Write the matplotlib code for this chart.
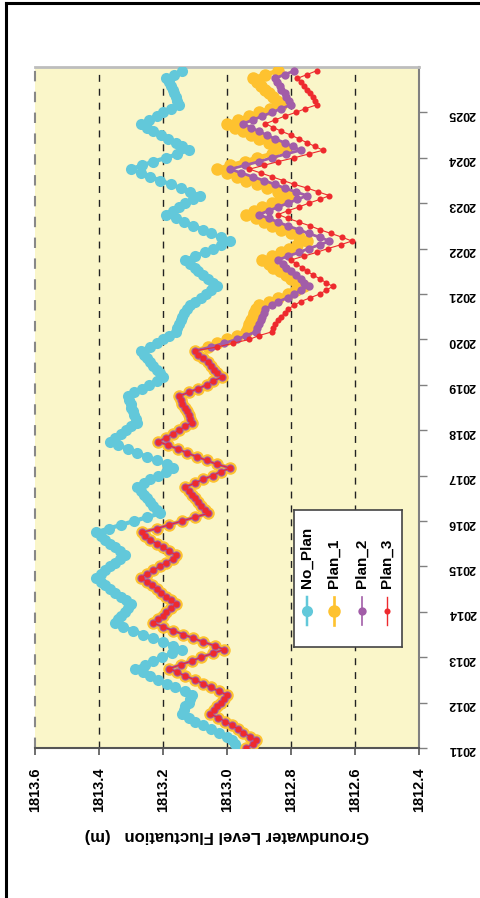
import numpy as np
import matplotlib
matplotlib.use("Agg")
import matplotlib.pyplot as plt
from matplotlib.lines import Line2D

plt.rcParams['font.family'] = ['Liberation Sans', 'DejaVu Sans']
plt.rcParams['font.weight'] = 'bold'

# ---- data: monthly groundwater level (m), Jan 2011 - Dec 2025 ----
years = list(range(2011, 2026))
year_labels = [str(y) for y in years]
value_ticks = [1813.6, 1813.4, 1813.2, 1813.0, 1812.8, 1812.6, 1812.4]
value_labels = ['1813.6', '1813.4', '1813.2', '1813.0', '1812.8', '1812.6', '1812.4']
series_names = ['No_Plan', 'Plan_1', 'Plan_2', 'Plan_3']

no_plan = [
    1812.970, 1812.975, 1812.985, 1813.000, 1813.025, 1813.050, 1813.075, 1813.100, 1813.120, 1813.140, 1813.135, 1813.130,
    1813.120, 1813.115, 1813.110, 1813.131, 1813.163, 1813.188, 1813.215, 1813.241, 1813.262, 1813.288, 1813.256, 1813.230,
    1813.204, 1813.173, 1813.142, 1813.168, 1813.199, 1813.230, 1813.262, 1813.293, 1813.324, 1813.350, 1813.340, 1813.330,
    1813.320, 1813.310, 1813.300, 1813.315, 1813.330, 1813.350, 1813.365, 1813.380, 1813.395, 1813.410, 1813.395, 1813.380,
    1813.365, 1813.350, 1813.335, 1813.320, 1813.335, 1813.350, 1813.365, 1813.380, 1813.395, 1813.410, 1813.370, 1813.330,
    1813.290, 1813.250, 1813.210, 1813.220, 1813.230, 1813.240, 1813.250, 1813.260, 1813.270, 1813.280, 1813.260, 1813.240,
    1813.215, 1813.190, 1813.170, 1813.188, 1813.220, 1813.251, 1813.282, 1813.308, 1813.340, 1813.366, 1813.350, 1813.330,
    1813.315, 1813.300, 1813.280, 1813.285, 1813.290, 1813.295, 1813.300, 1813.300, 1813.305, 1813.310, 1813.290, 1813.265,
    1813.245, 1813.220, 1813.200, 1813.210, 1813.220, 1813.230, 1813.240, 1813.250, 1813.260, 1813.270, 1813.240, 1813.220,
    1813.200, 1813.180, 1813.160, 1813.155, 1813.150, 1813.145, 1813.140, 1813.135, 1813.125, 1813.115, 1813.100, 1813.080,
    1813.065, 1813.050, 1813.030, 1813.045, 1813.060, 1813.075, 1813.090, 1813.100, 1813.115, 1813.130, 1813.100, 1813.070,
    1813.045, 1813.020, 1812.990, 1813.020, 1813.050, 1813.075, 1813.105, 1813.135, 1813.160, 1813.190, 1813.170, 1813.150,
    1813.130, 1813.105, 1813.085, 1813.115, 1813.145, 1813.175, 1813.210, 1813.240, 1813.270, 1813.300, 1813.265, 1813.230,
    1813.190, 1813.155, 1813.120, 1813.140, 1813.160, 1813.185, 1813.205, 1813.230, 1813.250, 1813.270, 1813.245, 1813.220,
    1813.200, 1813.175, 1813.150, 1813.155, 1813.160, 1813.165, 1813.170, 1813.175, 1813.180, 1813.190, 1813.165, 1813.140,
]

# all plans follow the same record up to Oct 2019
plan_shared = [
    1812.940, 1812.920, 1812.910, 1812.928, 1812.949, 1812.965, 1812.985, 1813.006, 1813.027, 1813.053, 1813.040, 1813.030,
    1813.020, 1813.010, 1813.000, 1813.025, 1813.050, 1813.075, 1813.100, 1813.130, 1813.155, 1813.180, 1813.145, 1813.110,
    1813.080, 1813.045, 1813.010, 1813.037, 1813.074, 1813.105, 1813.136, 1813.168, 1813.199, 1813.230, 1813.215, 1813.200,
    1813.190, 1813.175, 1813.160, 1813.175, 1813.190, 1813.205, 1813.220, 1813.235, 1813.250, 1813.270, 1813.250, 1813.230,
    1813.210, 1813.190, 1813.170, 1813.160, 1813.180, 1813.200, 1813.220, 1813.240, 1813.255, 1813.265, 1813.220, 1813.180,
    1813.140, 1813.100, 1813.060, 1813.070, 1813.080, 1813.090, 1813.100, 1813.110, 1813.120, 1813.130, 1813.100, 1813.075,
    1813.045, 1813.020, 1812.990, 1813.032, 1813.063, 1813.095, 1813.126, 1813.152, 1813.183, 1813.215, 1813.190, 1813.170,
    1813.150, 1813.130, 1813.110, 1813.115, 1813.120, 1813.125, 1813.130, 1813.140, 1813.145, 1813.150, 1813.120, 1813.090,
    1813.063, 1813.043, 1813.017, 1813.030, 1813.040, 1813.050, 1813.060, 1813.075, 1813.090, 1813.100,
]

# Nov 2019 - Dec 2025
plan_1_tail = [
    1813.060, 1813.030,
    1813.000, 1812.970, 1812.940, 1812.935, 1812.930, 1812.925, 1812.920, 1812.915, 1812.910, 1812.900, 1812.870, 1812.840,
    1812.810, 1812.785, 1812.760, 1812.780, 1812.800, 1812.815, 1812.835, 1812.855, 1812.870, 1812.890, 1812.860, 1812.830,
    1812.805, 1812.780, 1812.750, 1812.775, 1812.800, 1812.830, 1812.860, 1812.885, 1812.910, 1812.940, 1812.915, 1812.890,
    1812.860, 1812.835, 1812.810, 1812.840, 1812.875, 1812.905, 1812.940, 1812.970, 1813.000, 1813.030, 1812.990, 1812.945,
    1812.905, 1812.860, 1812.820, 1812.845, 1812.870, 1812.900, 1812.925, 1812.950, 1812.975, 1813.000, 1812.965, 1812.930,
    1812.900, 1812.865, 1812.830, 1812.845, 1812.855, 1812.870, 1812.880, 1812.895, 1812.905, 1812.920, 1812.880, 1812.840,
]
plan_2_tail = [
    1813.050, 1813.010,
    1812.970, 1812.940, 1812.910, 1812.905, 1812.900, 1812.895, 1812.890, 1812.885, 1812.880, 1812.860, 1812.840, 1812.810,
    1812.790, 1812.770, 1812.745, 1812.760, 1812.770, 1812.785, 1812.800, 1812.815, 1812.825, 1812.840, 1812.810, 1812.775,
    1812.745, 1812.710, 1812.680, 1812.710, 1812.745, 1812.775, 1812.810, 1812.840, 1812.870, 1812.900, 1812.870, 1812.840,
    1812.810, 1812.780, 1812.750, 1812.785, 1812.820, 1812.850, 1812.885, 1812.920, 1812.955, 1812.990, 1812.945, 1812.900,
    1812.860, 1812.815, 1812.770, 1812.795, 1812.820, 1812.850, 1812.875, 1812.900, 1812.925, 1812.950, 1812.920, 1812.890,
    1812.860, 1812.830, 1812.800, 1812.805, 1812.815, 1812.820, 1812.830, 1812.835, 1812.845, 1812.850, 1812.820, 1812.790,
]
plan_3_tail = [
    1813.030, 1812.980,
    1812.930, 1812.900, 1812.860, 1812.855, 1812.850, 1812.840, 1812.830, 1812.820, 1812.810, 1812.790, 1812.770, 1812.740,
    1812.710, 1812.690, 1812.670, 1812.690, 1812.710, 1812.730, 1812.750, 1812.765, 1812.785, 1812.800, 1812.760, 1812.720,
    1812.685, 1812.645, 1812.610, 1812.640, 1812.675, 1812.710, 1812.740, 1812.775, 1812.810, 1812.840, 1812.810, 1812.775,
    1812.745, 1812.710, 1812.680, 1812.715, 1812.750, 1812.790, 1812.825, 1812.860, 1812.895, 1812.930, 1812.885, 1812.840,
    1812.790, 1812.745, 1812.700, 1812.725, 1812.750, 1812.775, 1812.800, 1812.830, 1812.855, 1812.880, 1812.850, 1812.820,
    1812.785, 1812.755, 1812.720, 1812.725, 1812.730, 1812.740, 1812.750, 1812.760, 1812.770, 1812.780, 1812.750, 1812.720,
]

plan_1 = plan_shared + plan_1_tail
plan_2 = plan_shared + plan_2_tail
plan_3 = plan_shared + plan_3_tail

t = 2011 + np.arange(len(no_plan)) / 12.0

# ---- styles ----
styles = {
    'No_Plan': dict(color='#62C8DA', lw=3.0, ms=8.0),
    'Plan_1': dict(color='#FEC22F', lw=3.2, ms=9.0),
    'Plan_2': dict(color='#A25DA8', lw=2.0, ms=6.0),
    'Plan_3': dict(color='#EE2A2E', lw=0.8, ms=4.4),
}
series = {'No_Plan': no_plan, 'Plan_1': plan_1, 'Plan_2': plan_2, 'Plan_3': plan_3}

W, H = 481, 898
fig = plt.figure(figsize=(W / 100, H / 100), dpi=100)
fig.patch.set_facecolor('white')

ax_l, ax_r, ax_t, ax_b = 35, 419, 67, 748
ax = fig.add_axes([ax_l / W, 1 - ax_b / H, (ax_r - ax_l) / W, (ax_b - ax_t) / H])
ax.set_facecolor('#FAF6C9')

for name in series_names:
    st = styles[name]
    ax.plot(series[name], t, color=st['color'], lw=st['lw'], marker='o', ms=st['ms'],
            markeredgewidth=0, solid_joinstyle='round', zorder=3)

ax.set_xlim(1813.6, 1812.4)
ax.set_ylim(2011, 2026)

# dashed guide lines across the value axis
for v in value_ticks[1:-1]:
    ax.axvline(v, color='#222222', lw=1.0, ls=(0, (5, 5)), zorder=1)
ax.axvline(1813.6, color='#888888', lw=1.5, ls=(0, (5, 5)), zorder=1, clip_on=False)

ax.set_xticks(value_ticks)
ax.set_xticklabels(value_labels, rotation=90, fontsize=10.5, fontweight='bold')
ax.tick_params(axis='x', direction='out', length=5, width=1.2, color='#555555', pad=9)

ax.yaxis.tick_right()
ax.set_yticks(years)
ax.set_yticklabels(year_labels, rotation=180, fontsize=9, fontweight='bold')
ax.tick_params(axis='y', direction='out', length=6, width=1.0, color='#808080', pad=15)

ax.spines['left'].set_visible(False)
ax.spines['bottom'].set_color('#555555')
ax.spines['bottom'].set_linewidth(1.5)
ax.spines['right'].set_color('#808080')
ax.spines['right'].set_linewidth(1.5)
ax.spines['top'].set_color('#BDBDBD')
ax.spines['top'].set_linewidth(2.0)

fig.text(227 / W, 1 - 836 / H, 'Groundwater Level Fluctuation   (m)', rotation=180,
         ha='center', va='center', fontsize=12, fontweight='bold')

# legend box with vertical entries
lg_l, lg_r, lg_t, lg_b = 294, 402, 510, 647
lax = fig.add_axes([lg_l / W, 1 - lg_b / H, (lg_r - lg_l) / W, (lg_b - lg_t) / H])
lax.set_xlim(0, 1)
lax.set_ylim(0, 1)
lax.set_xticks([])
lax.set_yticks([])
lax.set_facecolor('white')
for sp in lax.spines.values():
    sp.set_color('#444444')
    sp.set_linewidth(1.2)
cols = [0.12, 0.37, 0.63, 0.86]
for xc, name in zip(cols, series_names):
    st = styles[name]
    lax.add_line(Line2D([xc, xc], [0.16, 0.365], color=st['color'], lw=max(st['lw'] * 0.6, 1.0)))
    lax.plot([xc], [0.263], marker='o', ms=st['ms'], color=st['color'], markeredgewidth=0)
    lax.text(xc, 0.43, name, rotation=90, ha='center', va='bottom', fontsize=11, fontweight='bold')

# outer chart frame
fig.add_artist(Line2D([6 / W, 6 / W], [0, 1 - 3 / H], color='black', lw=2.2))
fig.add_artist(Line2D([6 / W, 1], [1 - 3 / H, 1 - 3 / H], color='black', lw=2.2))

fig.savefig('out.png', dpi=100)
